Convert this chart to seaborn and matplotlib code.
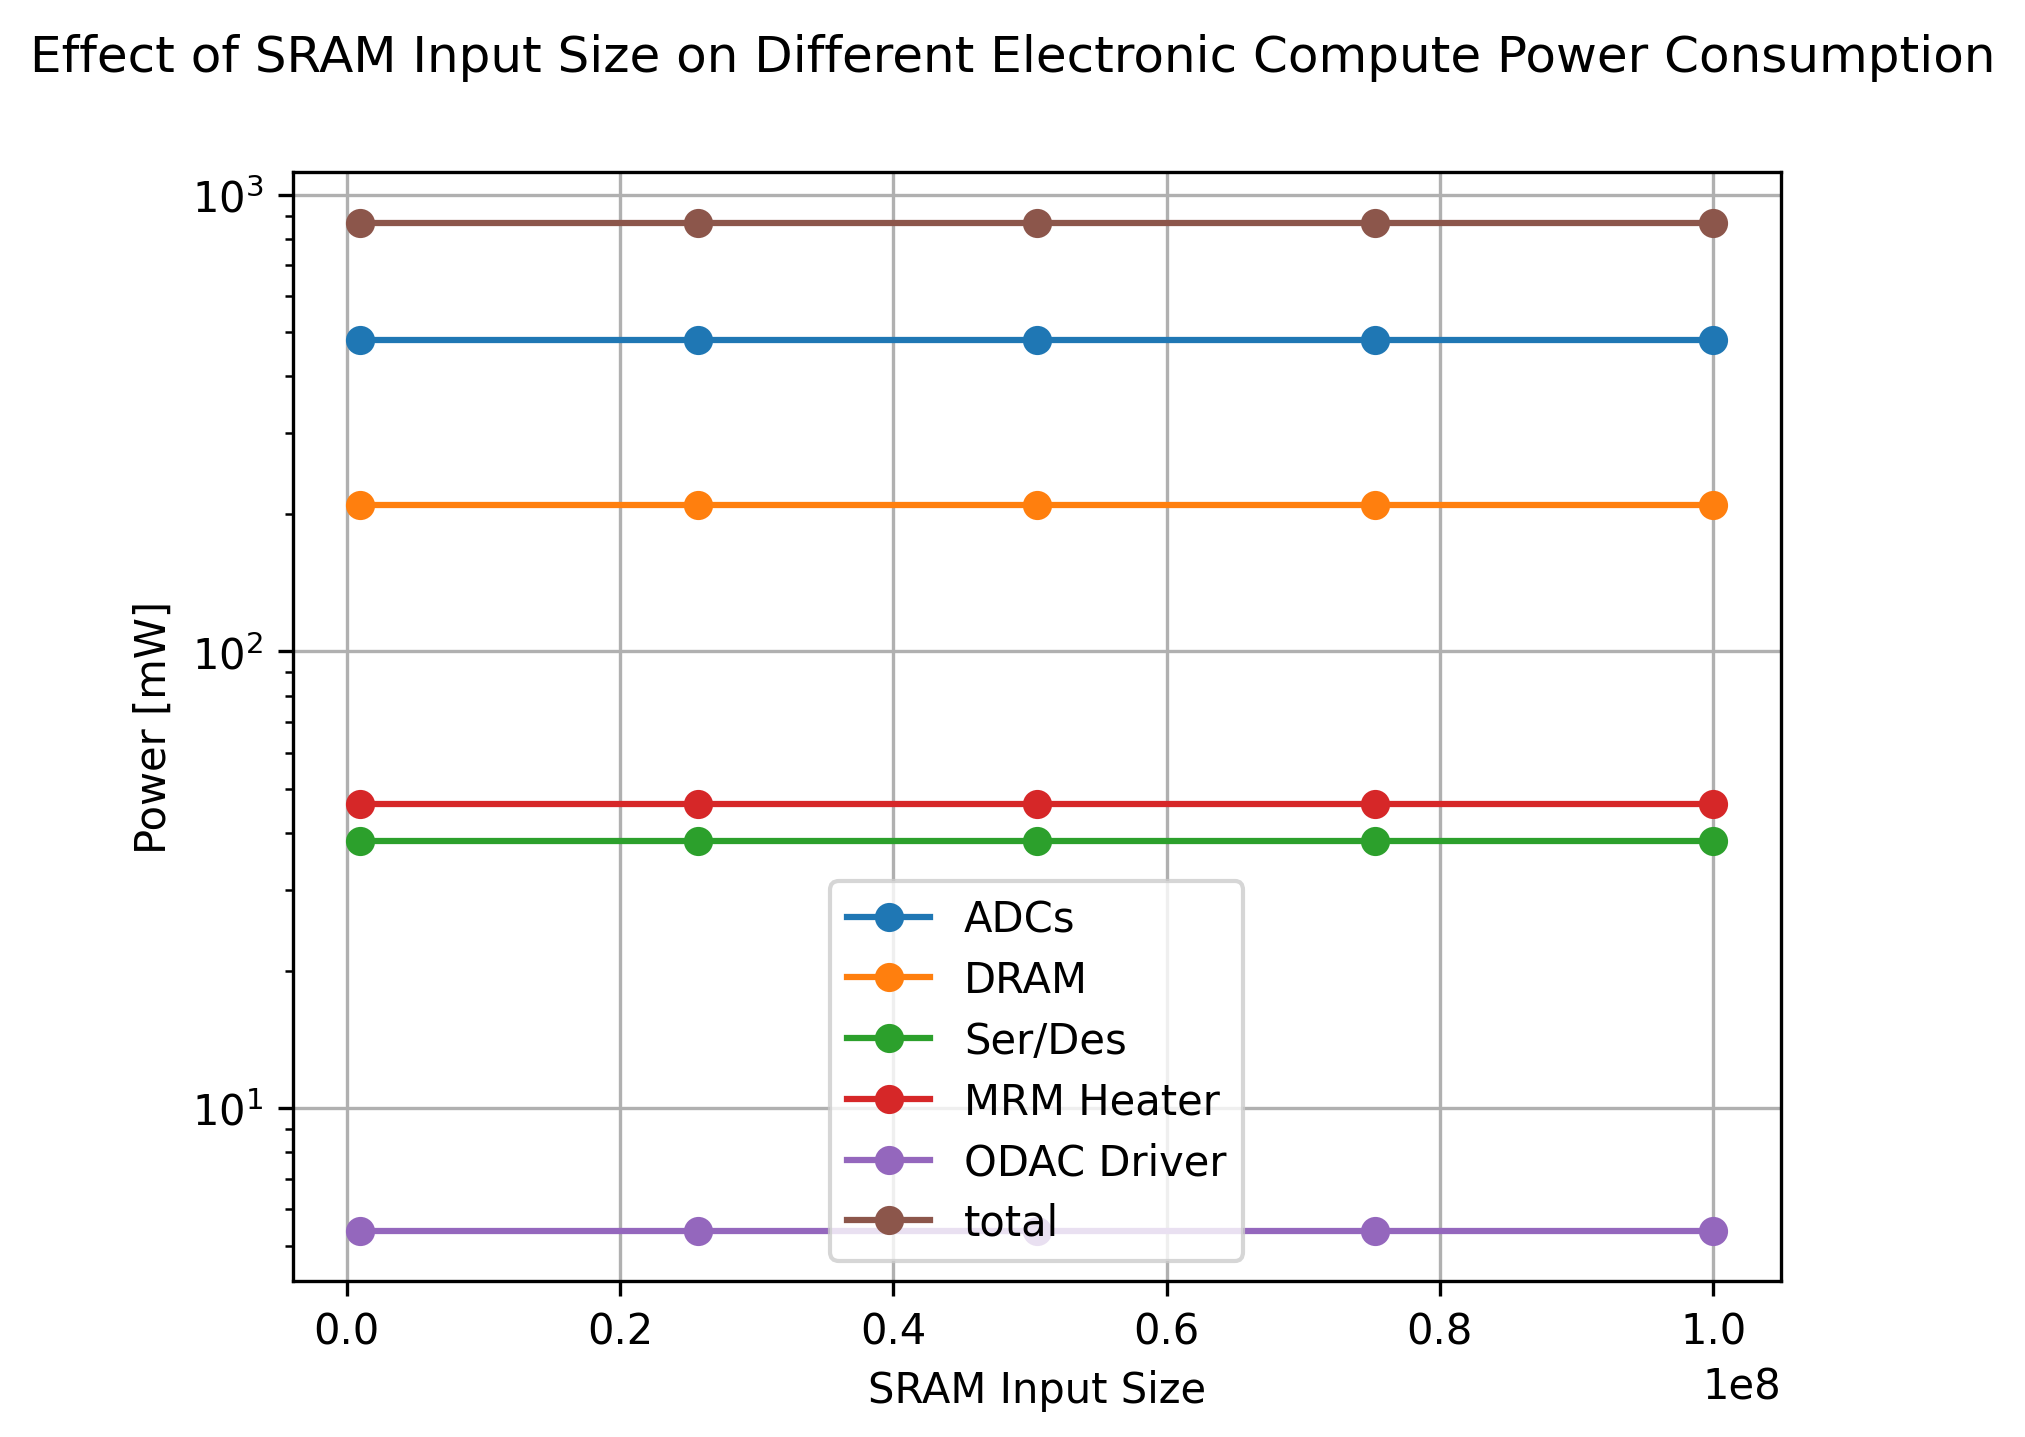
import matplotlib
matplotlib.use('Agg')
import matplotlib.pyplot as plt
import seaborn as sns
import pandas as pd

# SRAM input sizes (x) and the power per component [mW]
sram_sizes = [1.0e6, 25.75e6, 50.5e6, 75.25e6, 100.0e6]
components = ['ADCs', 'DRAM', 'Ser/Des', 'MRM Heater', 'ODAC Driver', 'total']
adcs = [481, 481, 481, 481, 481]
dram = [209.6, 209.6, 209.6, 209.6, 209.6]
serdes = [38.5, 38.5, 38.5, 38.5, 38.5]
mrm_heater = [46.2, 46.2, 46.2, 46.2, 46.2]
odac_driver = [5.38, 5.38, 5.38, 5.38, 5.38]
total = [868, 868, 868, 868, 868]

series = [adcs, dram, serdes, mrm_heater, odac_driver, total]
colors = sns.color_palette('tab10', len(components))

fig = plt.figure(figsize=(6.75, 4.7933), dpi=300)
ax = fig.add_axes([0.1445, 0.1082, 0.7349, 0.7713])

for name, vals, c in zip(components, series, colors):
    df = pd.DataFrame({'size': sram_sizes, 'power': vals})
    sns.lineplot(data=df, x='size', y='power', ax=ax, marker='o', color=c,
                 label=name, markersize=6, markeredgewidth=1,
                 markeredgecolor=c, linewidth=1.5)

ax.set_yscale('log')
ax.grid(True)
ax.set_xlabel('SRAM Input Size')
ax.set_ylabel('Power [mW]')
ax.legend(loc='lower center', labelspacing=0.45)
fig.suptitle('Effect of SRAM Input Size on Different Electronic Compute Power Consumption',
             x=0.5, y=0.960, va='center')

fig.savefig('out.png', dpi=300)
